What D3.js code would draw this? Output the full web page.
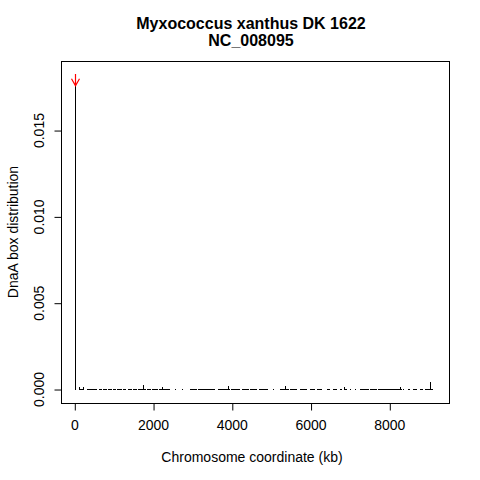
<!DOCTYPE html>
<html><head><meta charset="utf-8">
<script src="https://cdn.jsdelivr.net/npm/d3@7"></script>
<style>body{margin:0;background:#fff}svg{display:block}text{font-family:"Liberation Sans",Arial,Helvetica,sans-serif;fill:#000}</style>
</head><body>
<script>
// ---- data ----
const titleLines = ["Myxococcus xanthus DK 1622", "NC_008095"];
const xLabel = "Chromosome coordinate (kb)";
const yLabel = "DnaA box distribution";
const xTicks = [0, 2000, 4000, 6000, 8000];
const yTicks = [0.000, 0.005, 0.010, 0.015];
// individual notable bars (kb, value)
const peakPos = [25, 119, 213, 1745, 2228, 3904, 5351, 6850, 8272, 9034];
const peakVal = [0.01755, 0.00012, 0.00012, 0.00022, 0.00010, 0.00018, 0.00016, 0.00014, 0.00010, 0.00040];
// runs of very small densities along the chromosome (start kb, end kb)
const runStart = [119, 323, 462, 627, 729, 856, 983, 1085, 1237, 1364, 1491, 1618, 1847, 1974, 2150, 2558, 2736, 2939, 3150, 3650, 3990, 4250, 4470, 4700, 5045, 5224, 5480, 5732, 5986, 6164, 6418, 6570, 6748, 6850, 7002, 7129, 7256, 7500, 7713, 8000, 8348, 8475, 8602, 8780, 8907];
const runEnd   = [213, 450, 589, 704, 831, 958, 1059, 1212, 1313, 1466, 1593, 1821, 1948, 2130, 2431, 2580, 2760, 3120, 3574, 3960, 4230, 4430, 4650, 4920, 5070, 5450, 5656, 5910, 6113, 6291, 6494, 6672, 6799, 6926, 7025, 7150, 7480, 7688, 7980, 8323, 8370, 8526, 8704, 8856, 9110];
const arrowFrom = 0.01825, arrowTo = 0.01757, arrowPos = 25;

// ---- layout ----
const W = 480, H = 480;
const L = 61, R = 449, T = 61, B = 403;
const FONT = '"Liberation Sans",Arial,Helvetica,sans-serif';
const svg = d3.select("body").append("svg").attr("width", W).attr("height", H);
const x = d3.scaleLinear().domain([-338, 9516]).range([L, R]);
const y = d3.scaleLinear().domain([-0.00081, 0.01900]).range([B, T]);

// runs
svg.append("g").selectAll("rect").data(runStart.map((s, i) => [s, runEnd[i]])).join("rect")
  .attr("x", d => Math.round(x(d[0])))
  .attr("width", d => Math.max(1, Math.round(x(d[1]) - x(d[0]))))
  .attr("y", Math.round(y(0)))
  .attr("height", 1)
  .attr("fill", "#000");

// bars (type = "h")
svg.append("g").selectAll("line").data(peakPos.map((p, i) => [p, peakVal[i]])).join("line")
  .attr("x1", d => Math.round(x(d[0])) + 0.5).attr("x2", d => Math.round(x(d[0])) + 0.5)
  .attr("y1", y(0) + 1).attr("y2", d => y(d[1]))
  .attr("stroke", "#000").attr("stroke-width", 1).attr("shape-rendering", "crispEdges");

// arrow
const ax = Math.round(x(arrowPos)) + 0.5;
const ay1 = y(arrowFrom), ay2 = y(arrowTo);
svg.append("path")
  .attr("d", `M${ax},${ay1}L${ax},${ay2}M${ax - 4},${ay2 - 7}L${ax},${ay2}L${ax + 4},${ay2 - 7}`)
  .attr("stroke", "#ff0000").attr("fill", "none").attr("stroke-width", 1.2);

// box
svg.append("rect").attr("x", L + 0.5).attr("y", T + 0.5).attr("width", R - L).attr("height", B - T)
  .attr("fill", "none").attr("stroke", "#000").attr("stroke-width", 1);

// x axis
const xa = svg.append("g").attr("transform", `translate(0,${B + 0.5})`)
  .call(d3.axisBottom(x).tickValues(xTicks).tickSize(7).tickFormat(d3.format("d")));
xa.select(".domain").remove();
xa.selectAll("line").attr("transform", "translate(0.5,0)");
xa.selectAll("text").attr("y", 26).attr("dy", null)
  .style("font-size", "14px").style("font-family", FONT).attr("fill", "#000");

// y axis
const ya = svg.append("g").attr("transform", `translate(${L + 0.5},0)`)
  .call(d3.axisLeft(y).tickValues(yTicks).tickSize(7).tickFormat(d3.format(".3f")));
ya.select(".domain").remove();
ya.selectAll("text")
  .attr("x", 0).attr("dy", null)
  .attr("transform", "translate(-18,0) rotate(-90)")
  .attr("text-anchor", "middle")
  .style("font-size", "14px").style("font-family", FONT).attr("fill", "#000");
ya.selectAll(".tick line").attr("transform", "translate(0,0.5)");

// titles
svg.append("text").attr("x", 251).attr("y", 29).attr("text-anchor", "middle")
  .style("font-size", "16px").style("font-weight", "bold").text(titleLines[0]);
svg.append("text").attr("x", 251).attr("y", 46).attr("text-anchor", "middle")
  .style("font-size", "16px").style("font-weight", "bold").text(titleLines[1]);
svg.append("text").attr("x", 252).attr("y", 462).attr("text-anchor", "middle")
  .style("font-size", "14px").text(xLabel);
svg.append("text").attr("transform", `translate(18,${(T + B) / 2}) rotate(-90)`).attr("text-anchor", "middle")
  .style("font-size", "14px").text(yLabel);
</script>
</body></html>
